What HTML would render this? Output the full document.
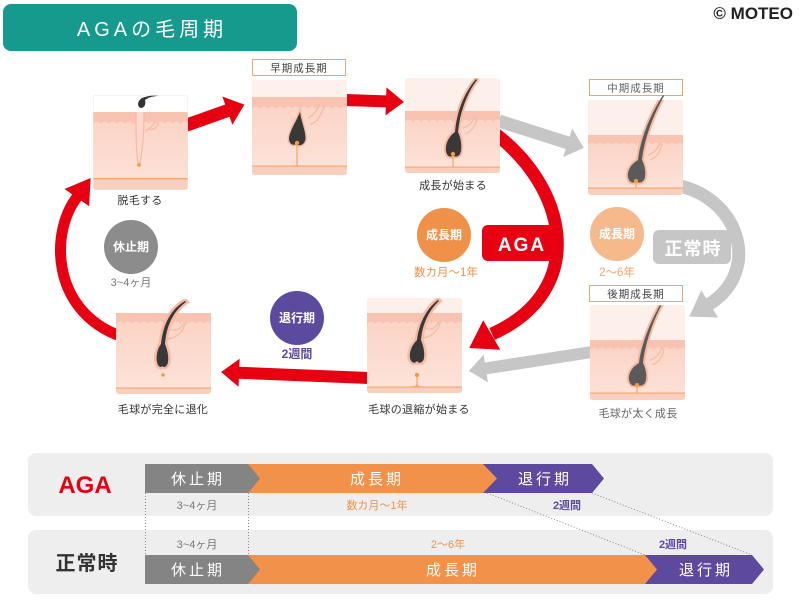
<!DOCTYPE html>
<html><head><meta charset="utf-8"><style>
html,body{margin:0;padding:0;background:#fff;}
svg{display:block;}
text{font-family:"Liberation Sans","Noto Sans CJK JP",sans-serif;}
</style></head><body>
<svg width="800" height="600" viewBox="0 0 800 600" xmlns="http://www.w3.org/2000/svg">
<defs>
<clipPath id="tc"><rect x="0" y="0" width="95" height="95" rx="3"/></clipPath>
<linearGradient id="sk" x1="0" y1="0" x2="0" y2="1"><stop offset="0" stop-color="#fbd4c5"/><stop offset="1" stop-color="#fde4da"/></linearGradient>
</defs>

<!-- Title -->
<rect x="3" y="4" width="294" height="47" rx="8" fill="#159a8d"/>
<text x="152" y="36" font-size="20" fill="#fff" text-anchor="middle" letter-spacing="4">AGAの毛周期</text>
<text x="793" y="19" font-size="17" font-weight="bold" fill="#222" text-anchor="end">© MOTEO</text>

<!-- arcs and arrows -->
<g fill="none" stroke-linecap="butt">
<path d="M490 130 C568 185, 590 290, 492 334" stroke="#e60012" stroke-width="13"/>
<path d="M120 336 C50 310, 50 230, 78 196" stroke="#e60012" stroke-width="11"/>
<path d="M680 186 C740 200, 762 272, 708 305" stroke="#c6c6c6" stroke-width="13"/>
</g>
<polygon points="-2,-17 24,0 -2,17" fill="#e60012" transform="translate(490,336) rotate(150)"/>
<polygon points="-2,-15 22,0 -2,15" fill="#e60012" transform="translate(78,196) rotate(-55)"/>
<polygon points="-2,-16 22,0 -2,16" fill="#c6c6c6" transform="translate(708,305) rotate(148)"/>

<path d="M0,-6.5 L46,-6.5 L46,-15 L64,0 L46,15 L46,6.5 L0,6.5 Z" fill="#e60012" transform="translate(184,126) rotate(-19.5)"/>
<path d="M0,-6 L40,-6 L40,-14 L58,0 L40,14 L40,6 L0,6 Z" fill="#e60012" transform="translate(346,100) rotate(2)"/>
<path d="M0,-6.5 L72,-6.5 L72,-15 L89,0 L72,15 L72,6.5 L0,6.5 Z" fill="#c6c6c6" transform="translate(499,121) rotate(17.6)"/>
<path d="M0,-6 L107.5,-6 L107.5,-14 L124.5,0 L107.5,14 L107.5,6 L0,6 Z" fill="#c6c6c6" transform="translate(592,352) rotate(171.2)"/>
<path d="M0,-6 L130,-6 L130,-14 L148,0 L130,14 L130,6 L0,6 Z" fill="#e60012" transform="translate(369,378) rotate(182.3)"/>

<!-- AGA / 正常時 boxes -->
<rect x="482" y="225" width="80" height="36" rx="6" fill="#e60012"/>
<text x="522" y="251" font-size="19" font-weight="bold" fill="#fff" text-anchor="middle" letter-spacing="2">AGA</text>
<rect x="653" y="230" width="78" height="34" rx="6" fill="#c6c6c6"/>
<text x="693" y="255" font-size="18" font-weight="bold" fill="#fff" text-anchor="middle" letter-spacing="1">正常時</text>

<!-- circles -->
<circle cx="131" cy="247" r="27" fill="#8c8c8c"/>
<text x="131" y="251" font-size="12" font-weight="bold" fill="#fff" text-anchor="middle">休止期</text>
<text x="131" y="286" font-size="11" fill="#777" text-anchor="middle">3~4ヶ月</text>

<circle cx="297" cy="318" r="27" fill="#5c4a9e"/>
<text x="297" y="322" font-size="12" font-weight="bold" fill="#fff" text-anchor="middle">退行期</text>
<text x="297" y="358" font-size="12" font-weight="bold" fill="#5c4a9e" text-anchor="middle">2週間</text>

<circle cx="444" cy="235" r="27" fill="#f0914a"/>
<text x="444" y="239" font-size="12" font-weight="bold" fill="#fff" text-anchor="middle">成長期</text>
<text x="446" y="276" font-size="11.5" fill="#f0914a" text-anchor="middle">数カ月〜1年</text>

<circle cx="617" cy="234" r="27" fill="#f6b98c"/>
<text x="617" y="238" font-size="12" font-weight="bold" fill="#fff" text-anchor="middle">成長期</text>
<text x="617" y="276" font-size="11.5" fill="#f5a46a" text-anchor="middle">2〜6年</text>

<!-- label boxes -->
<rect x="252.5" y="59.5" width="93" height="16" fill="#fff" stroke="#f0a468"/>
<text x="299" y="71.5" font-size="10.5" fill="#444" text-anchor="middle" letter-spacing="1">早期成長期</text>
<rect x="589.5" y="79.5" width="93" height="16" fill="#fff" stroke="#f0a468"/>
<text x="636" y="91.5" font-size="10.5" fill="#666" text-anchor="middle" letter-spacing="1">中期成長期</text>
<rect x="589.5" y="285.5" width="93" height="16" fill="#fff" stroke="#f0a468"/>
<text x="636" y="297.5" font-size="10.5" fill="#444" text-anchor="middle" letter-spacing="1">後期成長期</text>

<!-- Tile 1 脱毛する -->
<g transform="translate(93,95)"><g clip-path="url(#tc)">
<rect width="95" height="95" fill="url(#sk)"/>
<rect width="95" height="17" fill="#fff"/>
<rect y="17" width="95" height="12" fill="#f8c3b1"/>
<path d="M0,29 q4,-5 8,0 q4,-5 8,0 q4,-5 8,0 q4,-5 8,0 q4,-5 8,0 q4,-5 8,0 q4,-5 8,0 q4,-5 8,0 q4,-5 8,0 q4,-5 8,0 q4,-5 8,0 q4,-5 8,0 L96,95 L0,95 Z" fill="url(#sk)"/>
<path d="M43,17 C43,40 43,60 46,72 C49,60 51,40 51,17" fill="#fbd9cc" stroke="#f6b9a3" stroke-width="1.2"/>
<path d="M52,36 q8,-4 10,-10 M56,34 q6,2 10,-6" fill="none" stroke="#f6b9a3" stroke-width="1.2"/>
<path d="M49,3 C44,6 44,12 48,13 C52,13 53,8 52,5 C56,2 61,1 66,1 C60,0 54,1 49,3 Z" fill="#333"/>
<circle cx="46" cy="70" r="1.8" fill="#f39a3c"/>
<rect y="83" width="95" height="12" fill="#fbcfbd"/>
<rect y="83" width="95" height="1.5" fill="#f6a870"/>
</g><rect x="0.25" y="0.25" width="94.5" height="94.5" rx="3" fill="none" stroke="#f1e4e0" stroke-width="0.5"/></g>

<!-- Tile 2 早期 -->
<g transform="translate(252,80)"><g clip-path="url(#tc)">
<rect width="95" height="96" fill="url(#sk)"/>
<rect width="95" height="17" fill="#fef0eb"/>
<rect y="17" width="95" height="12" fill="#f8c3b1"/>
<path d="M0,29 q4,-5 8,0 q4,-5 8,0 q4,-5 8,0 q4,-5 8,0 q4,-5 8,0 q4,-5 8,0 q4,-5 8,0 q4,-5 8,0 q4,-5 8,0 q4,-5 8,0 q4,-5 8,0 q4,-5 8,0 L96,95 L0,95 Z" fill="url(#sk)"/>
<path d="M56,38 q8,-4 12,-14 M58,44 q8,0 14,-18" fill="none" stroke="#f6b9a3" stroke-width="1.2"/>
<path d="M48,32 C44,42 38,50 37,58 C37,64 41,66 44,64 C46,66 51,66 53,61 C55,54 50,45 48,32 Z" fill="#f6b9a3" stroke="#f6b9a3" stroke-width="3"/>
<path d="M48,32 C44,42 38,50 37,58 C37,64 41,66 44,64 C46,66 51,66 53,61 C55,54 50,45 48,32 Z" fill="#383838"/>
<circle cx="45" cy="63" r="2.2" fill="#f39a3c"/>
<path d="M45,65 L45,86" stroke="#f5a36a" stroke-width="1.2"/>
<rect y="86" width="95" height="10" fill="#fbcfbd"/>
<rect y="85.5" width="95" height="1.2" fill="#f6a870"/>
</g></g>

<!-- Tile 3 成長が始まる -->
<g transform="translate(405,78)"><g clip-path="url(#tc)">
<rect width="95" height="95" fill="url(#sk)"/>
<rect width="95" height="33" fill="#fdf0eb"/>
<rect y="33" width="95" height="11" fill="#f8c3b1"/>
<path d="M0,44 q4,-5 8,0 q4,-5 8,0 q4,-5 8,0 q4,-5 8,0 q4,-5 8,0 q4,-5 8,0 q4,-5 8,0 q4,-5 8,0 q4,-5 8,0 q4,-5 8,0 q4,-5 8,0 q4,-5 8,0 L96,95 L0,95 Z" fill="url(#sk)"/>
<path d="M58,50 q8,-2 12,-12 M60,56 q10,-4 12,-16" fill="none" stroke="#f6b9a3" stroke-width="1.2"/>
<path d="M71,1 C60,14 52,32 50,54 C44,58 40,66 41,73 C42,79 46,80 48,77 C50,80 55,79 56,73 C57,65 55,58 53,54 C55,34 62,15 72,2 Z" fill="#f6b9a3" stroke="#f6b9a3" stroke-width="4"/>
<path d="M71,1 C60,14 52,32 50,54 C44,58 40,66 41,73 C42,79 46,80 48,77 C50,80 55,79 56,73 C57,65 55,58 53,54 C55,34 62,15 72,2 Z" fill="#383838"/>
<circle cx="48" cy="76" r="2.2" fill="#f39a3c"/>
<path d="M48,78 L48,89" stroke="#f5a36a" stroke-width="1.2"/>
<rect y="89" width="95" height="6" fill="#fbcfbd"/>
<rect y="88.5" width="95" height="1.2" fill="#f6a870"/>
</g></g>

<!-- Tile 4 中期 -->
<g transform="translate(588,100)"><g clip-path="url(#tc)">
<rect width="95" height="95" fill="url(#sk)"/>
<rect width="95" height="35" fill="#fdf0eb"/>
<rect y="35" width="95" height="10" fill="#f8c3b1"/>
<path d="M0,45 q4,-5 8,0 q4,-5 8,0 q4,-5 8,0 q4,-5 8,0 q4,-5 8,0 q4,-5 8,0 q4,-5 8,0 q4,-5 8,0 q4,-5 8,0 q4,-5 8,0 q4,-5 8,0 q4,-5 8,0 L96,95 L0,95 Z" fill="url(#sk)"/>
<path d="M60,55 q8,-2 12,-12 M62,60 q10,-4 12,-16" fill="none" stroke="#f6b9a3" stroke-width="1.2"/>
<path d="M75,-5 C62,15 52,40 50,60 C43,64 39,71 40,77 C41,83 46,84 48,81 C50,84 56,83 57,77 C58,70 56,64 54,60 C56,40 65,15 76,-4 Z" fill="#f6b9a3" stroke="#f6b9a3" stroke-width="4"/>
<path d="M48,82 L48,88" stroke="#f5a36a" stroke-width="1.2"/>
<rect y="88" width="95" height="7" fill="#fbcfbd"/>
<rect y="87.5" width="95" height="1.2" fill="#f6a870"/>
</g>
<path d="M75,-5 C62,15 52,40 50,60 C43,64 39,71 40,77 C41,83 46,84 48,81 C50,84 56,83 57,77 C58,70 56,64 54,60 C56,40 65,15 76,-4 Z" fill="#5a5a5a"/>
<circle cx="48" cy="81" r="2" fill="#f39a3c"/>
</g>

<!-- Tile 5 後期 -->
<g transform="translate(590,305)"><g clip-path="url(#tc)">
<rect width="95" height="95" fill="url(#sk)"/>
<rect width="95" height="35" fill="#fdf0eb"/>
<rect y="35" width="95" height="10" fill="#f8c3b1"/>
<path d="M0,45 q4,-5 8,0 q4,-5 8,0 q4,-5 8,0 q4,-5 8,0 q4,-5 8,0 q4,-5 8,0 q4,-5 8,0 q4,-5 8,0 q4,-5 8,0 q4,-5 8,0 q4,-5 8,0 q4,-5 8,0 L96,95 L0,95 Z" fill="url(#sk)"/>
<path d="M60,55 q8,-2 12,-12 M62,60 q10,-4 12,-16" fill="none" stroke="#f6b9a3" stroke-width="1.2"/>
<path d="M70,0 C60,18 51,40 49,58 C42,62 38,69 39,75 C40,81 45,82 47,79 C49,82 55,81 56,75 C57,68 55,62 53,58 C55,40 62,18 71,1 Z" fill="#f6b9a3" stroke="#f6b9a3" stroke-width="4"/>
<path d="M70,0 C60,18 51,40 49,58 C42,62 38,69 39,75 C40,81 45,82 47,79 C49,82 55,81 56,75 C57,68 55,62 53,58 C55,40 62,18 71,1 Z" fill="#5a5a5a"/>
<circle cx="47" cy="80" r="2" fill="#f39a3c"/>
<path d="M47,82 L47,88" stroke="#f5a36a" stroke-width="1.2"/>
<rect y="88" width="95" height="7" fill="#fbcfbd"/>
<rect y="87.5" width="95" height="1.2" fill="#f6a870"/>
</g></g>

<!-- Tile 6 退縮 -->
<g transform="translate(367,298)"><g clip-path="url(#tc)">
<rect width="95" height="95" fill="url(#sk)"/>
<rect width="95" height="15" fill="#fdf0eb"/>
<rect y="15" width="95" height="11" fill="#f8c3b1"/>
<path d="M0,26 q4,-5 8,0 q4,-5 8,0 q4,-5 8,0 q4,-5 8,0 q4,-5 8,0 q4,-5 8,0 q4,-5 8,0 q4,-5 8,0 q4,-5 8,0 q4,-5 8,0 q4,-5 8,0 q4,-5 8,0 L96,95 L0,95 Z" fill="url(#sk)"/>
<path d="M58,30 q8,4 14,-6 M56,40 q14,-2 18,-18" fill="none" stroke="#f6b9a3" stroke-width="1.2"/>
<path d="M71,2 C60,10 52,25 50,42 C45,47 42,54 43,60 C44,65 48,66 50,63 C52,66 56,65 57,60 C58,54 56,47 54,42 C55,27 62,12 72,3 Z" fill="#f8c6b2" stroke="#f6b9a3" stroke-width="5"/>
<path d="M71,2 C60,10 52,25 50,42 C45,47 42,54 43,60 C44,65 48,66 50,63 C52,66 56,65 57,60 C58,54 56,47 54,42 C55,27 62,12 72,3 Z" fill="#383838"/>
<circle cx="50" cy="77" r="2.2" fill="#f39a3c"/>
<path d="M50,79 L50,86 Q50,89 44,89 M50,86 Q50,89 56,89" fill="none" stroke="#f5a36a" stroke-width="1.2"/>
<rect y="89" width="95" height="6" fill="#fbcfbd"/>
<rect y="88.5" width="95" height="1.2" fill="#f6a870"/>
</g></g>

<!-- Tile 7 完全に退化 -->
<g transform="translate(116,299)"><g clip-path="url(#tc)">
<rect width="95" height="95" fill="url(#sk)"/>
<rect width="95" height="14" fill="#fff"/>
<rect y="14" width="95" height="11" fill="#f8c3b1"/>
<path d="M0,25 q4,-5 8,0 q4,-5 8,0 q4,-5 8,0 q4,-5 8,0 q4,-5 8,0 q4,-5 8,0 q4,-5 8,0 q4,-5 8,0 q4,-5 8,0 q4,-5 8,0 q4,-5 8,0 q4,-5 8,0 L96,95 L0,95 Z" fill="url(#sk)"/>
<path d="M54,30 q8,4 14,-6 M52,40 q14,-2 18,-18" fill="none" stroke="#f6b9a3" stroke-width="1.2"/>
<path d="M69,2 C55,10 47,25 45,45 C41,50 40,58 41,63 C42,68 45,69 46,67 C48,69 51,68 52,63 C53,57 51,50 49,45 C50,28 57,12 70,3 Z" fill="#f8c6b2" stroke="#f6b9a3" stroke-width="5"/>
<path d="M69,2 C55,10 47,25 45,45 C41,50 40,58 41,63 C42,68 45,69 46,67 C48,69 51,68 52,63 C53,57 51,50 49,45 C50,28 57,12 70,3 Z" fill="#383838"/>
<circle cx="47" cy="76" r="1.8" fill="#f39a3c"/>
<rect y="89" width="95" height="6" fill="#fbcfbd"/>
<rect y="88.5" width="95" height="1.2" fill="#f6a870"/>
</g></g>

<!-- tile labels -->
<g font-size="11" fill="#333" text-anchor="middle" letter-spacing="0.3">
<text x="140" y="204">脱毛する</text>
<text x="453" y="189">成長が始まる</text>
<text x="419" y="413">毛球の退縮が始まる</text>
<text x="163" y="413">毛球が完全に退化</text>
<text x="638" y="417" fill="#666">毛球が太く成長</text>
</g>

<!-- Bottom panels -->
<rect x="28" y="453" width="745" height="63" rx="8" fill="#eeeeee"/>
<rect x="28" y="530" width="745" height="64" rx="8" fill="#eeeeee"/>
<rect x="145" y="516" width="103" height="14" fill="#fff"/>

<text x="85" y="493" font-size="24" font-weight="bold" fill="#e60012" text-anchor="middle">AGA</text>
<text x="87" y="570" font-size="20" font-weight="bold" fill="#333" text-anchor="middle" letter-spacing="1">正常時</text>

<!-- AGA row -->
<polygon points="483,464 592,464 604,478.5 592,493 483,493" fill="#5d4a9f"/>
<polygon points="248,464 483,464 497,478.5 483,493 248,493" fill="#f29149"/>
<polygon points="145,464 248,464 260,478.5 248,493 145,493" fill="#848484"/>
<g font-size="15" fill="#fff" text-anchor="middle" letter-spacing="3">
<text x="198" y="484">休止期</text>
<text x="377" y="484">成長期</text>
<text x="545" y="484">退行期</text>
</g>

<!-- Normal row -->
<polygon points="645,555 752,555 764,569.5 752,584 645,584" fill="#5d4a9f"/>
<polygon points="248,555 645,555 657,569.5 645,584 248,584" fill="#f29149"/>
<polygon points="145,555 248,555 260,569.5 248,584 145,584" fill="#848484"/>
<g font-size="15" fill="#fff" text-anchor="middle" letter-spacing="3">
<text x="198" y="575">休止期</text>
<text x="453" y="575">成長期</text>
<text x="706" y="575">退行期</text>
</g>

<!-- row labels -->
<text x="197" y="509" font-size="11" fill="#777" text-anchor="middle">3~4ヶ月</text>
<text x="377" y="509" font-size="11" fill="#f0914a" text-anchor="middle">数カ月〜1年</text>
<text x="567" y="509" font-size="11" font-weight="bold" fill="#5d4a9f" text-anchor="middle">2週間</text>
<text x="197" y="548" font-size="11" fill="#777" text-anchor="middle">3~4ヶ月</text>
<text x="448" y="548" font-size="11" fill="#f0914a" text-anchor="middle">2〜6年</text>
<text x="673" y="548" font-size="11" font-weight="bold" fill="#5d4a9f" text-anchor="middle">2週間</text>

<!-- dotted guides -->
<g stroke="#888" stroke-width="1" stroke-dasharray="1 2" fill="none">
<line x1="145.5" y1="493" x2="145.5" y2="555"/>
<line x1="248.5" y1="493" x2="248.5" y2="555"/>
<line x1="487" y1="493" x2="645" y2="555"/>
<line x1="592" y1="493" x2="752" y2="555"/>
</g>
</svg>
</body></html>
